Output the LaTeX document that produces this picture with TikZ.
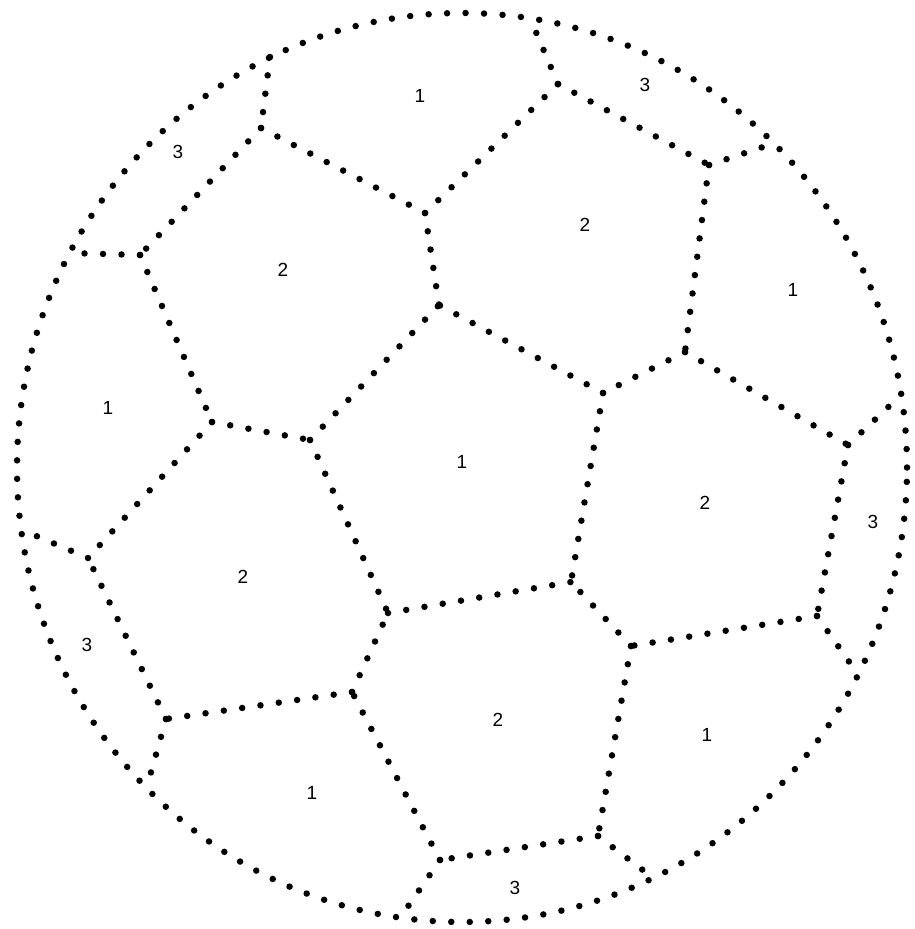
\documentclass[tikz,border=0pt]{standalone}
\usepackage{fontspec}
\setmainfont{Liberation Sans}
\begin{document}
\begin{tikzpicture}[x=1pt,y=-1pt,
  dotline/.style={line width=6.5pt, dash pattern=on 0pt off 18.5pt, line cap=round, black},
  lbl/.style={font=\fontsize{19}{19}\selectfont, inner sep=0pt}]
\useasboundingbox[fill=white] (0,0) rectangle (914,929);
% outer boundary
\draw[dotline] (462,467.5) ellipse [x radius=445pt, y radius=454.5pt];
% boundary junctions
\coordinate (B1) at (270,57);
\coordinate (B2) at (530,18);
\coordinate (B3) at (775,143);
\coordinate (B4) at (69,253);
\coordinate (B5) at (901,395);
\coordinate (B6) at (857,673);
\coordinate (B7) at (652,877);
\coordinate (B8) at (400,918);
\coordinate (B9) at (20,529);
\coordinate (B10) at (148,783);
% inner vertices
\coordinate (V1) at (261,128);
\coordinate (V2) at (425,213);
\coordinate (V3) at (558,84);
\coordinate (V4) at (709,165);
\coordinate (V5) at (439,305);
\coordinate (V6) at (140,255);
\coordinate (V7) at (212,422);
\coordinate (V8) at (310,440);
\coordinate (V9) at (685,352);
\coordinate (V10) at (603,393);
\coordinate (V11) at (848,445);
\coordinate (V12) at (571,582);
\coordinate (V13) at (817,616);
\coordinate (V14) at (631,646);
\coordinate (V15) at (598,836);
\coordinate (V16) at (388,613);
\coordinate (V17) at (440,860);
\coordinate (V18) at (352,692);
\coordinate (V19) at (166,719);
\coordinate (V20) at (88,558);
% edges
\foreach \a/\b in {B1/V1, V1/V2, V1/V6, V6/B4, V6/V7, V7/V8, V7/V20, V8/V5,
  V8/V16, V2/V5, V2/V3, V3/B2, V3/V4, V4/B3, V4/V9, V9/V10, V9/V11, V11/B5,
  V10/V5, V10/V12, V11/V13, V13/B6, V13/V14, V14/V12, V14/V15, V15/B7,
  V15/V17, V17/B8, V17/V18, V18/V16, V16/V12, V18/V19, V19/V20, V20/B9, V19/B10}
  \draw[dotline] (\a) -- (\b);
% labels
\node[lbl] (l1) at (420,96) {1};
\node[lbl] (l2) at (645,85) {3};
\node[lbl] (l3) at (178,152) {3};
\node[lbl] (l4) at (585,225) {2};
\node[lbl] (l5) at (283,270) {2};
\node[lbl] (l6) at (793,290) {1};
\node[lbl] (l7) at (108,408) {1};
\node[lbl] (l8) at (462,462) {1};
\node[lbl] (l9) at (705,503) {2};
\node[lbl] (l10) at (873,522) {3};
\node[lbl] (l11) at (243,577) {2};
\node[lbl] (l12) at (87,645) {3};
\node[lbl] (l13) at (498,720) {2};
\node[lbl] (l14) at (707,735) {1};
\node[lbl] (l15) at (312,793) {1};
\node[lbl] (l16) at (515,888) {3};
\end{tikzpicture}
\end{document}
